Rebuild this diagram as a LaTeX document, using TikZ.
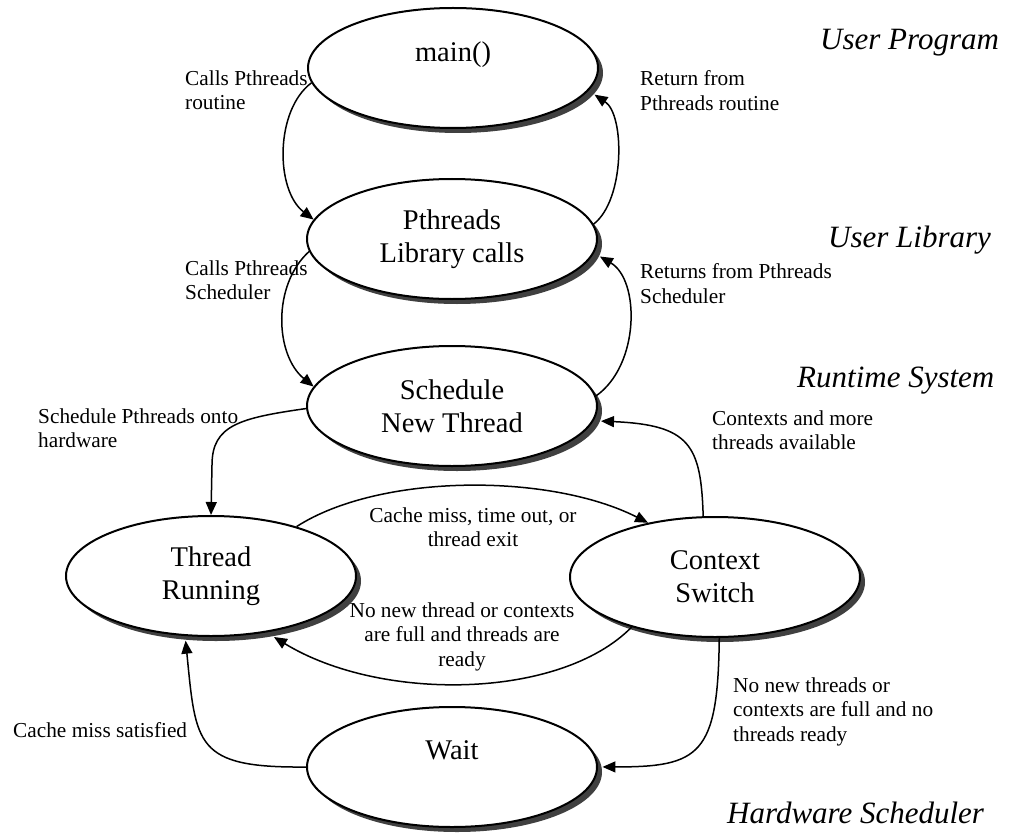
\documentclass[tikz,border=0pt]{standalone}
\usepackage{fontspec}
\setmainfont{Liberation Serif}
\usetikzlibrary{arrows.meta,shapes.geometric,shadows}

\tikzset{
  state/.style={ellipse, draw, line width=2pt, fill=white,
    minimum width=290pt, minimum height=120pt, inner sep=0pt, align=center,
    font=\fontsize{28.5}{33}\selectfont,
    drop shadow={shadow xshift=5pt, shadow yshift=-5pt, fill=black!75, opacity=1}},
  flow/.style={line width=1.5pt, -{Triangle[length=13pt,width=11pt]}},
  note/.style={inner sep=0pt, align=left, font=\fontsize{21.3}{24.5}\selectfont, anchor=north west},
  cnote/.style={note, align=center, anchor=north},
  layer/.style={inner sep=0pt, font=\fontsize{31}{36}\selectfont\itshape, anchor=base west},
  shd/.style={shift={(5pt,-5pt)}}
}

\begin{document}
\begin{tikzpicture}[x=1pt, y=-1pt]
\useasboundingbox[fill=white] (0,0) rectangle (1011,837);

% states
\node[state] (main)  at (453,68)  {main()\\\mbox{}};
\node[state] (lib)   at (452,239) {Pthreads\\Library calls};
\node[state] (sched) at (452,406) {Schedule\\New Thread};
\node[state] (run)   at (211,576) {Thread\\Running};
\node[state] (ctx)   at (715,577) {Context\\Switch};
\node[state] (wait)  at (452,767) {Wait\\\mbox{}};

% transitions
\draw[flow] (main.186) .. controls (275,110) and (275,190) .. (lib.172);
\draw[flow] (lib.185) .. controls (272,285) and (275,355) .. (sched.172);
\draw[flow] (lib.6) .. controls (625,200) and (625,115) .. ([shd]main.-9);
\draw[flow] (sched.4) .. controls (640,365) and (640,280) .. ([shd]lib.-5);
\draw[flow] (sched.181) .. controls (240,418) and (212,425) .. (212,465) -- (run.north);
\draw[flow] (ctx.101) .. controls (701,445) and (690,425) .. ([shd]sched.-4);
\draw[flow] (run.30) .. controls (380,473) and (550,473) .. (ctx.141);
\draw[flow] (ctx.211) .. controls (560,700) and (380,702) .. ([shd]run.-44);
\draw[flow] (wait.west) .. controls (195,768) and (196,745) .. ([shd]run.-117);
\draw[flow] (ctx.-86) .. controls (718,755) and (700,767) .. ([shd]wait.2);

% transition labels
\node[note] (l1) at (185,70.4) {Calls Pthreads\\routine};
\node[note] (l2) at (640,70.4) {Return from\\Pthreads routine};
\node[note] (l3) at (185,260.4) {Calls Pthreads\\Scheduler};
\node[note] (l4) at (640,263.4) {Returns from Pthreads\\Scheduler};
\node[note] (l5) at (38,408.4) {Schedule Pthreads onto\\hardware};
\node[note] (l6) at (712,410.4) {Contexts and more\\threads available};
\node[cnote] (l7) at (473,507.4) {Cache miss, time out, or\\thread exit};
\node[cnote] (l8) at (462,602.4) {No new thread or contexts\\are full and threads are\\ready};
\node[note, anchor=base west] (l9) at (13,737) {Cache miss satisfied};
\node[note] (l10) at (733,677.4) {No new threads or\\contexts are full and no\\threads ready};

% layers
\node[layer] (t1) at (820,50)  {User Program};
\node[layer] (t2) at (828,247) {User Library};
\node[layer] (t3) at (797,387) {Runtime System};
\node[layer] (t4) at (727,823) {Hardware Scheduler};
\end{tikzpicture}
\end{document}
